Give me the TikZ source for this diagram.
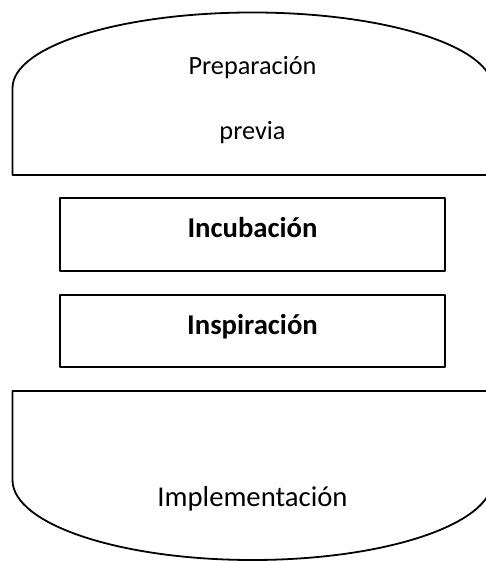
\documentclass[tikz,border=0pt]{standalone}
\usepackage{fontspec}
\setmainfont{Carlito}
\usetikzlibrary{positioning}

\begin{document}
\begin{tikzpicture}[
    x=1pt, y=1pt,
    outline/.style={draw=black, line width=1.8pt, line join=round},
    stagebox/.style={rectangle, outline, minimum width=385pt, minimum height=#1,
                     inner sep=0pt, text height=20pt, text depth=13.5pt,
                     font=\fontsize{28.7}{32}\selectfont\bfseries},
    stagetext/.style={anchor=base, inner sep=0pt, font=\fontsize{#1}{30}\selectfont},
  ]
    \useasboundingbox (0,0) rectangle (486,561);
    \clip (0,0) rectangle (486,561);
    % top dome
    \draw[outline] (12.5,386) -- (12.5,473)
      arc[start angle=180, end angle=0, x radius=240, y radius=75.5]
      -- (492.5,386) -- cycle;
    \node[stagetext=26.3] (prep) at (252.5,486) {Preparación};
    \node[stagetext=26.3] (prev) at (252.5,421) {previa};
    % middle stages
    \node[stagebox=73pt] (incu) at (252.5,326.5) {Incubación};
    \node[stagebox=72pt] (insp) at (252.5,230) {Inspiración};
    % bottom dome
    \draw[outline] (12.5,170) -- (12.5,81)
      arc[start angle=180, end angle=360, x radius=240, y radius=80]
      -- (492.5,170) -- cycle;
    \node[stagetext=28.7] (impl) at (252.5,54) {Implementación};
  \end{tikzpicture}
\end{document}
